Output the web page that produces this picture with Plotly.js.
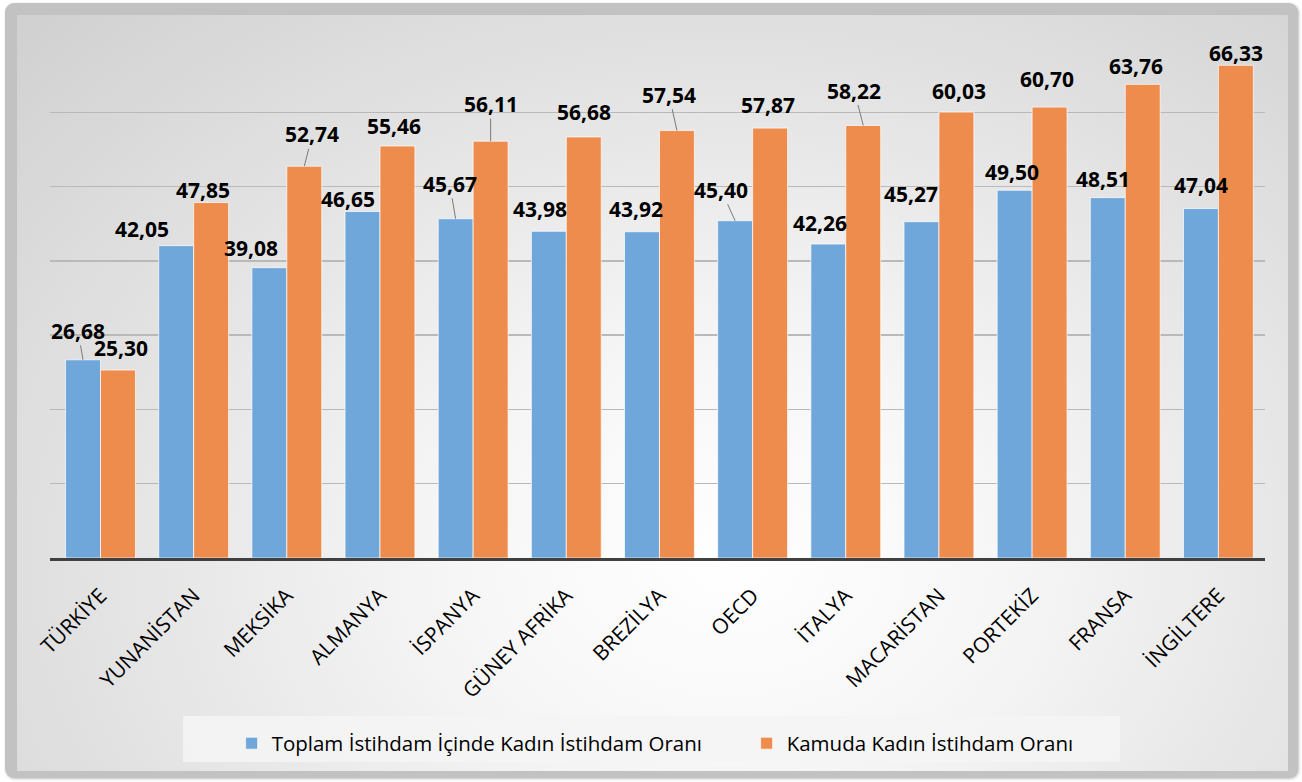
<!DOCTYPE html>
<html>
<head>
<meta charset="utf-8">
<script src="https://cdn.plot.ly/plotly-3.0.1.min.js"></script>
<style>
  html, body { margin:0; padding:0; background:#ffffff; width:1302px; height:782px; overflow:hidden; }
  #frame { position:absolute; left:5px; top:3px; width:1293px; height:775px; border-radius:9px;
           background:#c2c2c2; box-shadow: 1px 1px 3px rgba(0,0,0,0.25); }
  #inner { position:absolute; left:17px; top:15px; width:1271px; height:756px;
           background: radial-gradient(ellipse 78% 100% at 56% 72%, #ffffff 0%, #f6f6f6 28%, #e4e4e4 62%, #d1d1d1 100%); }
  #chart { position:absolute; left:0; top:0; width:1302px; height:782px; }
</style>
</head>
<body>
<div id="frame"></div>
<div id="inner"></div>
<div id="chart"></div>
<script>
// ---- data ----
const categories = ['TÜRKİYE','YUNANİSTAN','MEKSİKA','ALMANYA','İSPANYA','GÜNEY AFRİKA','BREZİLYA','OECD','İTALYA','MACARİSTAN','PORTEKİZ','FRANSA','İNGİLTERE'];
const toplamOran = [26.68, 42.05, 39.08, 46.65, 45.67, 43.98, 43.92, 45.40, 42.26, 45.27, 49.50, 48.51, 47.04];
const kamuOran   = [25.30, 47.85, 52.74, 55.46, 56.11, 56.68, 57.54, 57.87, 58.22, 60.03, 60.70, 63.76, 66.33];
const seriesNames = ['Toplam İstihdam İçinde Kadın İstihdam Oranı', 'Kamuda Kadın İstihdam Oranı'];

// ---- label placement (pixel offsets of label centre from bar top) ----
const toplamLabelDx = [-5, -34, -18, -14, -6, -9, -6, -14, -8, -10, -3, -5, 0];
const toplamLabelDy = [-29, -17, -20, -12, -35, -22, -23, -31, -21, -28, -18, -19, -24];
const toplamLeader  = [true, false, false, false, true, false, false, true, false, false, false, false, false];
const kamuLabelDx = [3, -8, 8, -3, 0, 0, -8, -2, -9, 3, -3, -7, 0];
const kamuLabelDy = [-22, -13, -32, -20, -37, -25, -36, -23, -35, -21, -28, -18, -12];
const kamuLeader  = [false, false, true, false, true, false, true, false, true, false, false, false, false];

const BLUE = '#6fa7da';
const ORANGE = '#ee8c4d';
const fmt = v => v.toFixed(2).replace('.', ',');

const traces = [
  { type:'bar', name:seriesNames[0], x:categories, y:toplamOran,
    marker:{ color:BLUE, line:{ color:'rgba(255,255,255,0.7)', width:1 } }, hoverinfo:'x+y' },
  { type:'bar', name:seriesNames[1], x:categories, y:kamuOran,
    marker:{ color:ORANGE, line:{ color:'rgba(255,255,255,0.7)', width:1 } }, hoverinfo:'x+y' }
];

const annotations = [];
function addLabels(vals, dx, dy, leader, shift) {
  vals.forEach((v, i) => {
    annotations.push({
      x: categories[i], y: v, xref:'x', yref:'y', xshift: shift,
      text: fmt(v), showarrow: true, ax: dx[i], ay: dy[i],
      arrowhead: 0, arrowwidth: 1, standoff: 0,
      arrowcolor: leader[i] ? '#7a7a7a' : 'rgba(0,0,0,0)',
      font: { family:'Open Sans, sans-serif', size:21, color:'#000000', weight:'bold' },
      borderpad: 0
    });
  });
}
addLabels(toplamOran, toplamLabelDx, toplamLabelDy, toplamLeader, -17.5);
addLabels(kamuOran, kamuLabelDx, kamuLabelDy, kamuLeader, 17.5);

const layout = {
  width:1302, height:782,
  margin:{ l:50, r:37, t:38, b:224, pad:0 },
  paper_bgcolor:'rgba(0,0,0,0)', plot_bgcolor:'rgba(0,0,0,0)',
  barmode:'group', bargap:0.25, bargroupgap:0,
  font:{ family:'Open Sans, sans-serif', color:'#000000' },
  showlegend:true,
  legend:{ orientation:'h', x:0.1495, xanchor:'left', y:-0.318, yanchor:'top',
           bgcolor:'rgba(0,0,0,0)', entrywidth:470, entrywidthmode:'pixels',
           font:{ family:'Open Sans, sans-serif', size:20.5, color:'#000000' },
           itemclick:false, itemdoubleclick:false },
  xaxis:{ type:'category', tickangle:-45, ticks:'', ticklabelstandoff:14,
          tickfont:{ family:'Open Sans, sans-serif', size:21, color:'#000000' },
          showline:true, linecolor:'#404040', linewidth:3, showgrid:false, fixedrange:true },
  yaxis:{ range:[0,70], dtick:10, showticklabels:false, ticks:'', showgrid:true,
          gridcolor:'#b9b9b9', gridwidth:1.5, zeroline:false, showline:false, fixedrange:true },
  shapes:[{ type:'rect', xref:'paper', yref:'paper', layer:'below',
            x0:(183-50)/1215, x1:(1120-50)/1215, y0:(558-762)/520, y1:(558-716)/520,
            fillcolor:'rgba(244,244,244,0.85)', line:{ width:0 } }],
  annotations: annotations
};

Plotly.newPlot('chart', traces, layout, { displayModeBar:false, staticPlot:true });
</script>
</body>
</html>
